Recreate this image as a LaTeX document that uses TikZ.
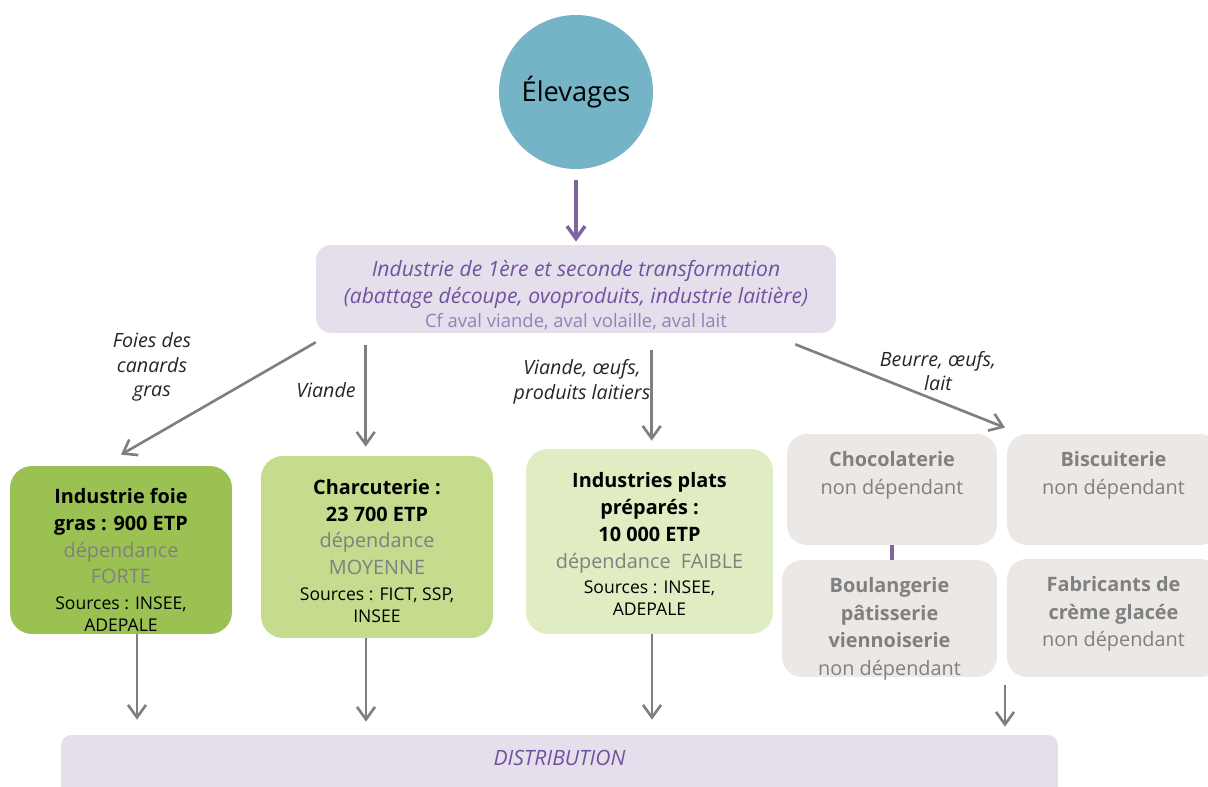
\documentclass[tikz,border=0pt]{standalone}
\usepackage{fontspec}
\setmainfont{Open Sans}
\usetikzlibrary{arrows.meta, positioning, calc}

\definecolor{elevteal}{RGB}{116,180,198}
\definecolor{lavender}{RGB}{229,223,236}
\definecolor{plum}{RGB}{112,82,160}
\definecolor{lightplum}{RGB}{150,128,186}
\definecolor{arrowplum}{RGB}{128,100,162}
\definecolor{greenA}{RGB}{155,193,83}
\definecolor{greenB}{RGB}{197,220,142}
\definecolor{greenC}{RGB}{224,236,194}
\definecolor{stone}{RGB}{235,232,229}
\definecolor{flowgray}{RGB}{127,127,127}
\definecolor{txtgray}{RGB}{128,128,128}

\tikzset{
  flow/.style={draw=flowgray, line width=1.5pt, -{Straight Barb[length=2.5mm,width=3.6mm]}},
  plumflow/.style={draw=arrowplum, line width=2pt, -{Straight Barb[length=2.5mm,width=3.6mm]}},
  procbox/.style={rounded corners=0.3cm, fill=lavender, minimum width=10.4cm, minimum height=1.76cm},
  proctxt/.style={text=plum, align=center, font=\fontsize{12}{15.3}\selectfont},
  greenbox/.style={rounded corners=0.44cm, inner sep=0pt},
  greentxt/.style={align=center, font=\fontsize{11.3}{15.3}\selectfont},
  stonebox/.style={rounded corners=0.4cm, fill=stone, inner sep=0pt, minimum height=2.22cm},
  stonetxt/.style={align=center, text=txtgray, anchor=north, font=\fontsize{11.3}{15.6}\selectfont},
  flowlabel/.style={align=center, text=black!85, font=\fontsize{11.2}{14}\selectfont\itshape},
}

\begin{document}
\begin{tikzpicture}[x=0.02cm, y=-0.02cm]
\useasboundingbox (0,0) rectangle (1208,787);

% farms and first processing
\node[circle, fill=elevteal, minimum size=3.08cm, font=\fontsize{15.5}{18}\selectfont] (elev) at (576,92) {Élevages};
\node[procbox] (trans) at (576,289) {};
\node[proctxt] (transtxt) at ($(trans)+(0,6)$) {\textit{Industrie de 1ère et seconde transformation}\\
  \textit{(abattage découpe, ovoproduits, industrie laitière)}\\[-1.5pt]
  {\color{lightplum}\fontsize{10.5}{12}\selectfont Cf aval viande, aval volaille, aval lait}};
\draw[plumflow, shorten <=0.22cm, shorten >=0.06cm] (elev) -- (trans);

% second processing
\node[greenbox, fill=greenA, minimum width=4.44cm, minimum height=3.36cm] (foie) at (121,550) {};
\node[greentxt] (foietxt) at ($(foie)+(0,10)$) {\textbf{Industrie foie}\\\textbf{gras : 900 ETP}\\
  {\color{txtgray}dépendance}\\{\color{txtgray}FORTE}\\[-0.5pt]
  {\fontsize{10}{12.5}\selectfont Sources : INSEE,}\\[-2.8pt]{\fontsize{10}{12.5}\selectfont ADEPALE}};

\node[greenbox, fill=greenB, minimum width=4.64cm, minimum height=3.64cm] (charc) at (377,547) {};
\node[greentxt] (charctxt) at ($(charc)+(0,4)$) {\textbf{Charcuterie :}\\\textbf{23 700 ETP}\\
  {\color{txtgray}dépendance}\\{\color{txtgray}MOYENNE}\\[-0.5pt]
  {\fontsize{10}{12.5}\selectfont Sources : FICT, SSP,}\\[-2.8pt]{\fontsize{10}{12.5}\selectfont INSEE}};

\node[greenbox, fill=greenC, minimum width=4.94cm, minimum height=3.7cm] (plats) at (649.5,541.5) {};
\node[greentxt] (platstxt) at ($(plats)+(0,2.5)$) {\textbf{Industries plats}\\\textbf{préparés :}\\\textbf{10 000 ETP}\\
  {\color{txtgray}dépendance\ \ FAIBLE}\\[-1pt]
  {\fontsize{10}{12.5}\selectfont Sources : INSEE,}\\[-2.8pt]{\fontsize{10}{12.5}\selectfont ADEPALE}};

\node[stonebox, minimum width=4.2cm] (choco) at (892,489.5) {};
\node[stonetxt] (chocotxt) at ($(choco.north)+(0,12)$) {\textbf{Chocolaterie}\\non dépendant};
\node[stonebox, minimum width=4.26cm] (bisc) at (1113.5,489.5) {};
\node[stonetxt] (bisctxt) at ($(bisc.north)+(0,12)$) {\textbf{Biscuiterie}\\non dépendant};
\node[stonebox, minimum width=4.3cm, minimum height=2.34cm] (boul) at (889.5,618.5) {};
\node[stonetxt] (boultxt) at ($(boul.north)+(0,12)$) {\textbf{Boulangerie}\\\textbf{pâtisserie}\\\textbf{viennoiserie}\\non dépendant};
\node[stonebox, minimum width=4.26cm, minimum height=2.36cm] (fabr) at (1113.5,618) {};
\node[stonetxt] (fabrtxt) at ($(fabr.north)+(0,12)$) {\textbf{Fabricants de}\\\textbf{crème glacée}\\non dépendant};
\draw[arrowplum, line width=2pt] (choco.south) -- (choco.south |- boul.north);

% retail
\node[rounded corners=0.2cm, fill=lavender, minimum width=19.94cm, minimum height=1.6cm,
  label={[anchor=north, yshift=-0.18cm, text=plum, font=\fontsize{12}{14}\selectfont\itshape]north:DISTRIBUTION}]
  (distrib) at (559.5,775) {};

% flows from first processing
\coordinate (t1) at ($(trans.south west)+(0,9)$);
\coordinate (t2) at ($(trans.south west)+(50,12)$);
\coordinate (t3) at ($(trans.south west)+(336,17)$);
\coordinate (t4) at ($(trans.south east)+(-41,11)$);
\coordinate (gap) at ($(choco.north east)!0.5!(bisc.north west)$);
\draw[flow] (t1) -- ($(foie.north)+(0,-11)$);
\draw[flow] (t2) -- ($(t2 |- charc.north)+(0,-9)$);
\draw[flow] (t3) -- ($(t3 |- plats.north)+(0,-8)$);
\draw[flow] (t4) -- ($(gap)+(3,-6)$);
\node[flowlabel] (lblfoie) at (152,367) {Foies des\\canards\\gras};
\node[flowlabel] (lblviande) at (326,390) {Viande};
\node[flowlabel] (lblplats) at (582,382) {Viande, œufs,\\produits laitiers};
\node[flowlabel] (lblbeurre) at (938,371) {Beurre, œufs,\\lait};

% flows to retail
\coordinate (b1) at ($(foie.south)+(16,0)$);
\coordinate (b2) at ($(charc.south)+(-11,0)$);
\coordinate (b3) at ($(plats.south)+(2.5,0)$);
\coordinate (b4) at ($(boul.south east)!0.5!(fabr.south west)+(3,8)$);
\draw[flow] (b1) -- ($(b1 |- distrib.north)+(0,-15)$);
\draw[flow] (b2) -- ($(b2 |- distrib.north)+(0,-13)$);
\draw[flow] (b3) -- ($(b3 |- distrib.north)+(0,-15)$);
\draw[flow] (b4) -- ($(b4 |- distrib.north)+(0,-8)$);
\end{tikzpicture}
\end{document}
